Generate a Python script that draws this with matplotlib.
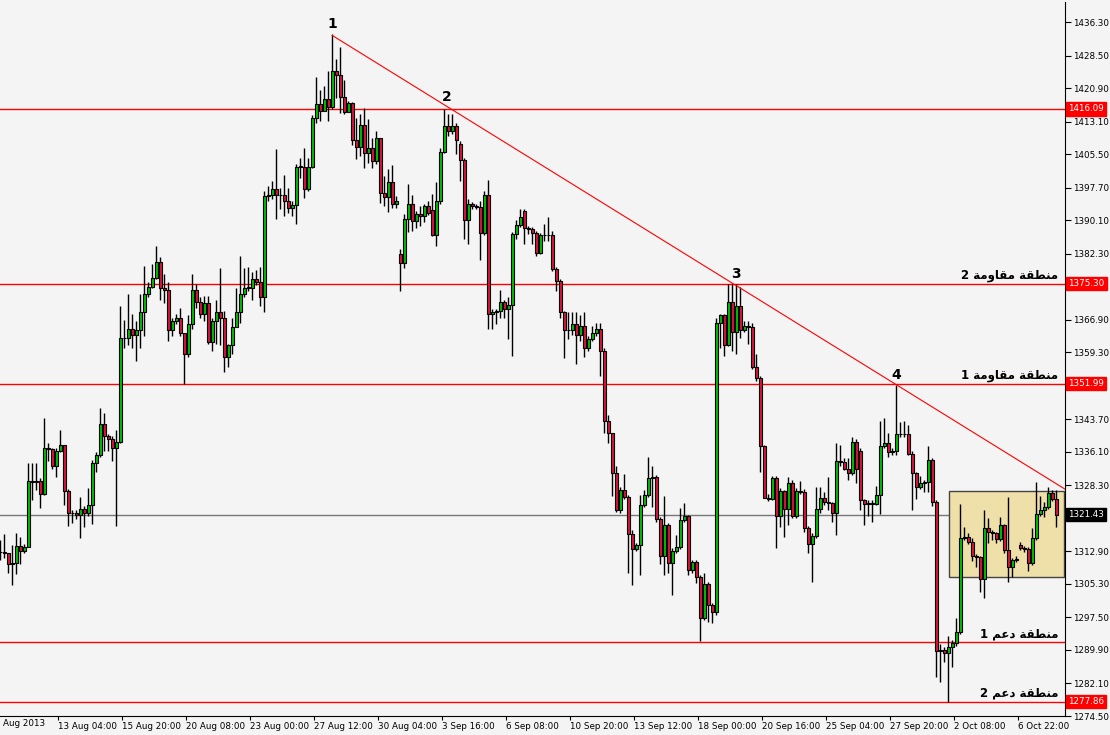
import matplotlib
matplotlib.use("Agg")
import matplotlib.pyplot as plt
import matplotlib.transforms as mtransforms
from matplotlib.patches import Rectangle

# H4 candles
closes = [
    1312.7, 1312.5, 1309.9, 1310.1, 1314.1, 1312.9, 1313.9, 1329.2, 1329.0, 1329.2,
    1326.2, 1337.1, 1336.7, 1332.9, 1336.2, 1337.6, 1326.9, 1321.8, 1321.8, 1321.3,
    1322.7, 1321.8, 1323.6, 1333.6, 1335.3, 1342.5, 1339.7, 1339.2, 1336.9, 1338.3,
    1362.7, 1362.7, 1364.8, 1363.4, 1364.6, 1368.6, 1373.0, 1374.6, 1376.7, 1380.4,
    1374.4, 1373.9, 1364.6, 1366.5, 1367.2, 1363.7, 1359.0, 1365.8, 1373.9, 1371.1,
    1368.3, 1370.9, 1361.8, 1366.5, 1368.6, 1367.4, 1358.3, 1360.9, 1365.1, 1368.6,
    1373.0, 1374.4, 1374.4, 1376.5, 1375.6, 1372.1, 1395.8, 1396.0, 1397.4, 1396.0,
    1396.0, 1394.6, 1393.0, 1393.7, 1402.6, 1402.6, 1397.4, 1402.6, 1414.0, 1417.2,
    1415.6, 1418.4, 1416.5, 1424.9, 1424.0, 1418.9, 1415.4, 1417.5, 1408.8, 1407.2,
    1412.3, 1405.8, 1407.0, 1403.9, 1409.3, 1396.5, 1395.6, 1399.1, 1393.9, 1394.6,
    1380.2, 1390.5, 1393.9, 1390.0, 1391.6, 1391.1, 1393.5, 1391.8, 1386.7, 1394.6,
    1406.0, 1412.1, 1410.9, 1412.1, 1408.8, 1404.2, 1390.2, 1393.9, 1393.5, 1393.3,
    1387.2, 1396.0, 1368.3, 1368.6, 1369.0, 1371.1, 1369.3, 1370.4, 1387.0, 1389.0,
    1390.9, 1388.4, 1388.1, 1387.2, 1382.5, 1386.7, 1386.7, 1386.6, 1378.8, 1376.0,
    1368.6, 1364.6, 1364.4, 1366.0, 1363.4, 1365.5, 1360.2, 1362.3, 1363.7, 1364.8,
    1359.7, 1343.2, 1340.6, 1331.1, 1322.5, 1327.1, 1325.5, 1316.9, 1313.4, 1314.3,
    1323.6, 1326.0, 1329.9, 1330.2, 1320.4, 1311.8, 1319.0, 1310.1, 1312.9, 1313.9,
    1320.1, 1321.1, 1308.5, 1310.4, 1306.9, 1297.3, 1305.2, 1300.4, 1298.7, 1366.2,
    1367.9, 1361.1, 1371.1, 1364.1, 1370.0, 1364.6, 1365.5, 1365.3, 1356.0, 1353.4,
    1337.4, 1325.3, 1325.1, 1329.9, 1321.1, 1326.9, 1322.7, 1328.8, 1321.1, 1326.9,
    1326.7, 1318.3, 1314.6, 1316.4, 1322.7, 1325.3, 1324.3, 1324.1, 1321.8, 1333.9,
    1333.7, 1332.2, 1331.1, 1338.3, 1332.2, 1324.8, 1323.9, 1324.1, 1324.0, 1326.0,
    1337.4, 1338.1, 1336.0, 1336.4, 1340.2, 1340.3, 1340.2, 1335.7, 1331.1, 1327.8,
    1328.8, 1329.0, 1334.1, 1324.3, 1289.6, 1289.9, 1289.2, 1290.6, 1291.5, 1294.1,
    1316.0, 1316.2, 1315.1, 1311.8, 1311.5, 1306.4, 1318.3, 1317.3, 1317.1, 1315.7,
    1319.0, 1313.2, 1309.2, 1310.8, 1311.1, 1313.6, 1313.4, 1310.1, 1316.0, 1321.5,
    1322.5, 1323.2, 1326.4, 1325.0, 1321.43,
]
highs = [
    1315.5, 1316.9, 1312.5, 1314.3, 1317.1, 1316.2, 1314.6, 1333.6, 1333.6, 1333.6,
    1329.9, 1344.1, 1338.1, 1336.9, 1337.1, 1341.3, 1337.8, 1327.4, 1322.5, 1322.5,
    1325.5, 1323.4, 1327.6, 1334.1, 1336.0, 1346.4, 1345.1, 1340.2, 1339.7, 1341.1,
    1370.0, 1366.9, 1372.8, 1368.3, 1366.7, 1373.0, 1379.5, 1375.8, 1380.0, 1384.2,
    1381.6, 1377.6, 1375.6, 1367.4, 1368.3, 1369.7, 1363.9, 1367.9, 1377.6, 1375.3,
    1372.1, 1372.5, 1372.5, 1367.4, 1371.6, 1379.0, 1369.0, 1361.3, 1367.2, 1374.4,
    1381.8, 1379.0, 1379.3, 1378.1, 1378.6, 1379.3, 1397.0, 1398.1, 1399.3, 1406.7,
    1397.7, 1400.7, 1397.7, 1394.6, 1403.3, 1404.6, 1407.0, 1404.6, 1414.7, 1423.5,
    1420.5, 1421.4, 1424.9, 1433.5, 1427.7, 1430.5, 1422.8, 1417.9, 1417.7, 1414.0,
    1414.9, 1416.3, 1413.7, 1409.3, 1410.9, 1409.3, 1400.5, 1402.1, 1403.0, 1395.8,
    1383.5, 1391.6, 1398.6, 1396.0, 1392.3, 1393.5, 1393.9, 1394.6, 1396.3, 1399.1,
    1407.0, 1416.1, 1414.9, 1414.9, 1412.8, 1408.6, 1404.6, 1395.1, 1394.4, 1393.9,
    1394.6, 1397.0, 1399.5, 1369.5, 1369.5, 1373.9, 1371.6, 1372.1, 1387.4, 1390.2,
    1392.8, 1392.8, 1388.8, 1388.6, 1387.7, 1387.2, 1389.3, 1390.9, 1387.7, 1379.3,
    1376.5, 1369.0, 1368.6, 1368.6, 1368.6, 1368.1, 1368.6, 1363.2, 1365.5, 1366.2,
    1366.2, 1360.2, 1344.6, 1333.2, 1332.9, 1327.8, 1330.9, 1326.0, 1317.8, 1314.8,
    1326.0, 1327.1, 1334.8, 1332.7, 1330.6, 1320.8, 1325.7, 1319.4, 1313.6, 1316.7,
    1322.9, 1324.1, 1321.3, 1310.8, 1310.8, 1307.3, 1307.8, 1305.7, 1300.8, 1367.4,
    1368.3, 1368.3, 1375.3, 1375.3, 1375.3, 1374.6, 1366.7, 1366.5, 1366.2, 1359.0,
    1353.9, 1337.8, 1326.2, 1330.4, 1330.4, 1327.6, 1327.1, 1330.2, 1329.5, 1327.6,
    1329.2, 1327.4, 1318.7, 1317.1, 1327.8, 1327.8, 1326.7, 1330.2, 1324.3, 1338.1,
    1337.6, 1334.6, 1334.6, 1339.5, 1339.2, 1337.1, 1325.0, 1324.8, 1324.8, 1328.1,
    1343.4, 1344.1, 1340.6, 1336.9, 1351.8, 1343.0, 1343.4, 1342.3, 1336.4, 1331.5,
    1330.4, 1329.5, 1337.4, 1334.6, 1324.8, 1291.3, 1290.6, 1293.1, 1292.2, 1297.3,
    1323.9, 1318.5, 1317.1, 1316.0, 1312.2, 1311.8, 1322.5, 1320.6, 1317.8, 1317.3,
    1320.8, 1319.2, 1325.5, 1311.3, 1311.8, 1315.1, 1314.1, 1313.9, 1318.3, 1329.0,
    1325.7, 1324.3, 1327.8, 1327.1, 1327.1,
]
lows = [
    1310.8, 1311.3, 1307.8, 1305.0, 1307.6, 1309.9, 1312.5, 1314.8, 1324.8, 1327.1,
    1322.9, 1326.0, 1333.9, 1332.2, 1330.2, 1336.0, 1323.6, 1318.7, 1319.4, 1320.4,
    1316.0, 1318.5, 1321.1, 1319.2, 1331.3, 1334.8, 1336.4, 1336.4, 1333.9, 1318.7,
    1338.1, 1360.4, 1360.9, 1360.4, 1357.4, 1360.2, 1363.2, 1372.3, 1374.4, 1376.5,
    1371.6, 1370.7, 1362.0, 1363.2, 1366.0, 1363.0, 1352.0, 1358.3, 1364.8, 1369.7,
    1367.4, 1366.7, 1361.3, 1359.5, 1361.3, 1361.1, 1354.8, 1356.0, 1358.8, 1365.1,
    1366.2, 1372.3, 1373.7, 1371.6, 1374.9, 1370.0, 1368.6, 1394.6, 1395.1, 1390.5,
    1392.8, 1391.1, 1391.8, 1391.1, 1389.3, 1400.0, 1395.3, 1397.0, 1402.3, 1412.8,
    1413.3, 1415.6, 1413.3, 1416.1, 1418.6, 1415.1, 1414.9, 1416.3, 1407.7, 1404.4,
    1405.1, 1402.3, 1403.5, 1402.3, 1403.3, 1394.2, 1393.5, 1392.1, 1393.0, 1393.0,
    1373.7, 1379.0, 1387.4, 1387.7, 1388.4, 1388.8, 1389.8, 1391.4, 1386.5, 1384.2,
    1393.9, 1405.8, 1409.8, 1410.2, 1405.6, 1399.3, 1385.8, 1384.6, 1392.8, 1392.8,
    1380.9, 1386.7, 1364.8, 1364.8, 1365.8, 1367.2, 1367.4, 1362.3, 1358.5, 1385.8,
    1388.6, 1384.6, 1387.0, 1384.6, 1381.8, 1382.3, 1385.3, 1385.3, 1378.3, 1373.7,
    1367.2, 1357.9, 1362.5, 1363.4, 1356.7, 1362.0, 1358.1, 1359.7, 1362.0, 1363.2,
    1353.9, 1340.6, 1338.1, 1325.7, 1322.0, 1321.8, 1325.0, 1307.8, 1305.0, 1312.9,
    1307.3, 1323.2, 1325.5, 1323.2, 1319.7, 1309.9, 1307.3, 1307.8, 1302.7, 1312.5,
    1313.4, 1319.7, 1307.3, 1307.8, 1305.5, 1292.0, 1296.9, 1296.4, 1296.2, 1298.0,
    1360.2, 1358.5, 1360.7, 1359.5, 1359.0, 1362.7, 1364.1, 1361.3, 1355.5, 1352.7,
    1331.5, 1325.3, 1324.6, 1324.8, 1313.6, 1318.5, 1316.2, 1319.0, 1320.6, 1320.6,
    1326.2, 1317.3, 1312.5, 1305.7, 1316.0, 1321.8, 1323.6, 1322.5, 1319.7, 1316.7,
    1332.9, 1331.8, 1329.5, 1330.6, 1328.8, 1322.5, 1319.0, 1321.1, 1319.7, 1323.6,
    1321.5, 1337.1, 1334.8, 1335.3, 1335.3, 1339.5, 1339.5, 1335.3, 1322.5, 1325.0,
    1327.4, 1326.7, 1326.7, 1323.4, 1283.6, 1282.4, 1287.1, 1277.8, 1285.9, 1290.8,
    1293.6, 1315.5, 1314.6, 1310.6, 1309.2, 1303.4, 1302.0, 1314.8, 1315.5, 1314.8,
    1315.3, 1312.5, 1305.7, 1306.9, 1310.4, 1313.2, 1312.7, 1308.3, 1309.7, 1315.5,
    1321.1, 1320.8, 1322.7, 1324.6, 1318.5,
]
# opens that don't equal the previous close (gaps)
gap_opens = {0: 1312.7, 100: 1382.3, 108: 1392.5, 115: 1407.9, 131: 1392.3,
             215: 1336.4, 255: 1314.3}

date_labels = ["13 Aug 04:00", "15 Aug 20:00", "20 Aug 08:00", "23 Aug 00:00",
               "27 Aug 12:00", "30 Aug 04:00", "3 Sep 16:00", "6 Sep 08:00",
               "10 Sep 20:00", "13 Sep 12:00", "18 Sep 00:00", "20 Sep 16:00",
               "25 Sep 04:00", "27 Sep 20:00", "2 Oct 08:00", "6 Oct 22:00"]
price_ticks = [1436.30, 1428.50, 1420.90, 1413.10, 1405.50, 1397.70, 1390.10,
               1382.30, 1366.90, 1359.30, 1343.70, 1336.10, 1328.30, 1312.90,
               1305.30, 1297.50, 1289.90, 1282.10, 1274.50]

resist_2 = 1375.30
resist_1 = 1351.99
support_1 = 1291.7
support_2 = 1277.86
upper_line = 1416.09
last_price = 1321.43
trend_start = (83, 1433.2)
trend_end = (266.2, 1327.4)
box_x = (237.2, 266.0)
box_y = (1306.9, 1326.9)
peaks = [(83, 1434.3, "1"), (111.5, 1417.2, "2"), (184, 1375.9, "3"), (224, 1352.4, "4")]

# arabic in visual order with presentation forms (matplotlib has no shaping)
w_zone = "\ufe94\ufed8\ufec4\ufee8\ufee3"
w_resist = "\ufe94\ufee3\ufeed\ufe8e\ufed8\ufee3"
w_support = "\ufee2\ufecb\ufea9"

BG = "#f4f4f4"
UP = "#00c000"
DOWN = "#dc143c"

fig = plt.figure(figsize=(11.1, 7.35), dpi=100, facecolor=BG)
ax = fig.add_axes([0, 19 / 735, 1065 / 1110, 714 / 735])
ax.set_facecolor(BG)

n = len(closes)
opens = [gap_opens.get(i, closes[i - 1] if i > 0 else closes[0]) for i in range(n)]
for i in range(n):
    o, c = opens[i], closes[i]
    ax.vlines(i, lows[i], highs[i], color="black", lw=1, zorder=2)
    col = UP if c >= o else DOWN
    ax.bar(i, max(abs(c - o), 0.05), bottom=min(o, c), width=0.7, color=col,
           edgecolor="black", lw=0.8, zorder=3)

for lvl in [upper_line, resist_2, resist_1, support_1, support_2]:
    ax.axhline(lvl, color="red", lw=1, zorder=1)
ax.axhline(last_price, color="#777777", lw=1, zorder=1)
ax.plot([trend_start[0], trend_end[0]], [trend_start[1], trend_end[1]],
        color="red", lw=0.8, zorder=4)
ax.add_patch(Rectangle((box_x[0], box_y[0]), box_x[1] - box_x[0], box_y[1] - box_y[0],
                       facecolor="#efdfa8", edgecolor="#444444", lw=1, zorder=1.5))

for x, y, t in peaks:
    ax.text(x, y, t, fontsize=10, fontweight="bold", ha="center", va="bottom", zorder=5)

lab_kw = dict(fontsize=8.5, fontweight="bold", ha="right", va="bottom",
              family="DejaVu Sans", zorder=5)
ax.text(264.5, resist_2 + 0.5, "2 " + w_resist + " " + w_zone, **lab_kw)
ax.text(264.5, resist_1 + 0.5, "1 " + w_resist + " " + w_zone, **lab_kw)
ax.text(264.5, support_1 + 0.5, "1 " + w_support + " " + w_zone, **lab_kw)
ax.text(264.5, support_2 + 0.5, "2 " + w_support + " " + w_zone, **lab_kw)

ax.set_xlim(-0.075, 266.2)
ax.set_ylim(1274.5, 1441.0)

ax.yaxis.tick_right()
ax.set_yticks(price_ticks)
ax.set_yticklabels([f"{p:.2f}" for p in price_ticks])
ax.tick_params(axis="y", labelsize=6.3, length=4, pad=2)
ax.set_xticks([14.4 + 16 * k for k in range(len(date_labels))])
ax.set_xticklabels(date_labels, ha="left")
ax.tick_params(axis="x", labelsize=6.3, length=3, pad=1)
ax.text(0.003, -0.004, "Aug 2013", transform=ax.transAxes, fontsize=6.3, va="top")
for s in ["top", "left"]:
    ax.spines[s].set_visible(False)

trans = mtransforms.blended_transform_factory(ax.transAxes, ax.transData)
for lvl, fc in [(upper_line, "red"), (resist_2, "red"), (resist_1, "red"),
                (support_2, "red"), (last_price, "black")]:
    ax.text(1.003, lvl, f"{lvl:.2f}", transform=trans, fontsize=6.3, color="white",
            va="center", ha="left", zorder=6,
            bbox=dict(boxstyle="square,pad=0.25", fc=fc, ec=fc))

fig.savefig("out.png", dpi=100, facecolor=BG)
